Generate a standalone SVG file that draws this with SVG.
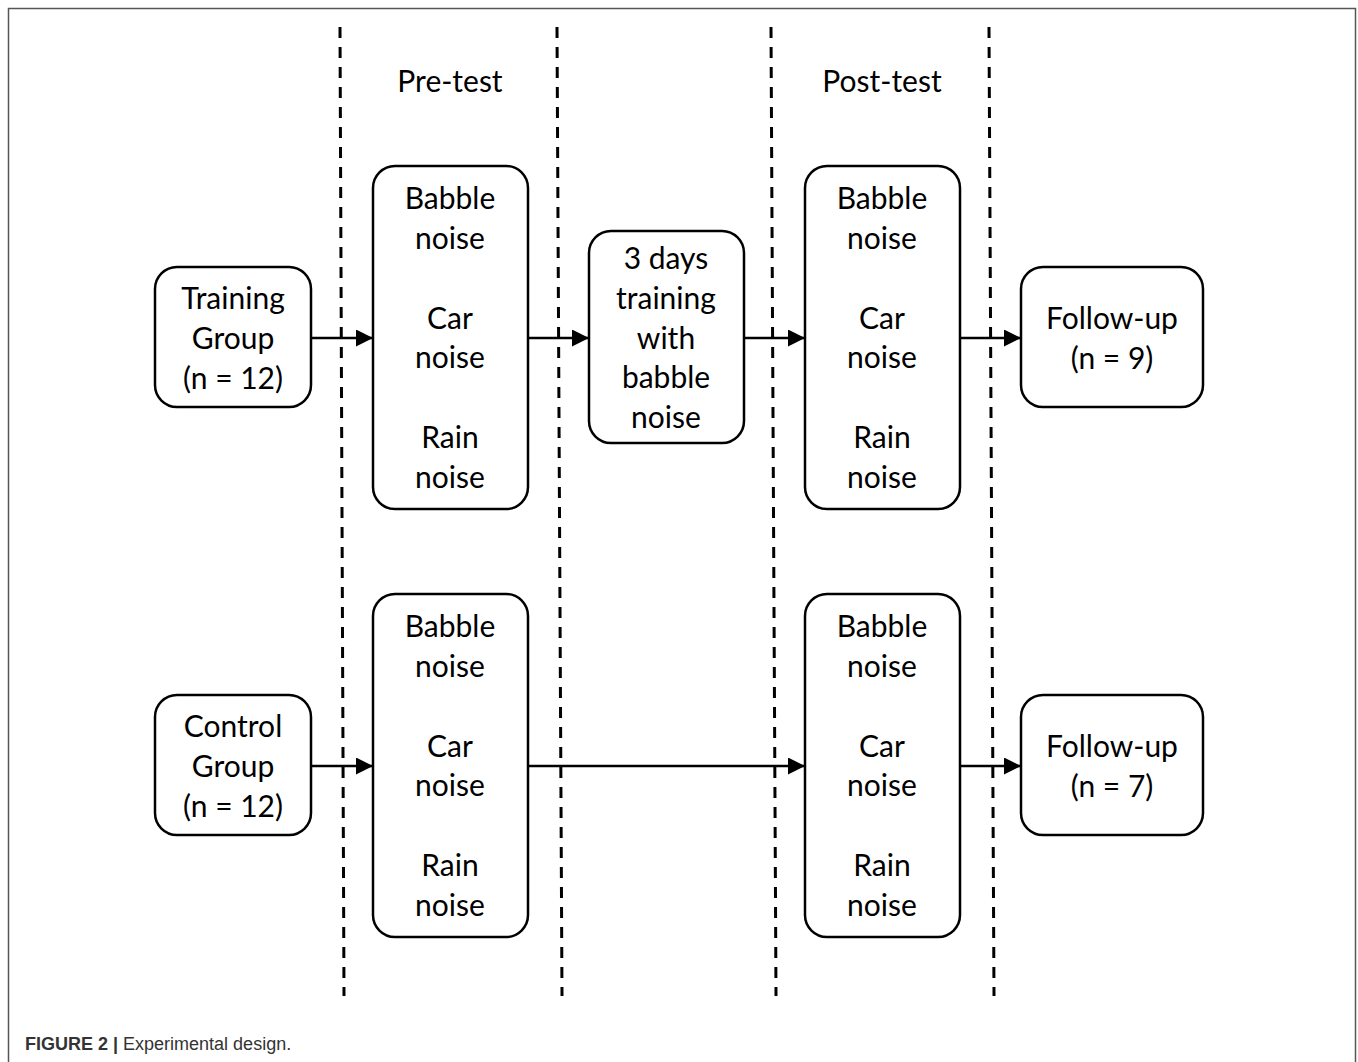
<svg xmlns="http://www.w3.org/2000/svg" width="1358" height="1062" viewBox="0 0 1358 1062">
<defs>
<marker id="ah" viewBox="0 0 10 10" refX="10" refY="5" markerWidth="17" markerHeight="17" markerUnits="userSpaceOnUse" orient="auto">
<path d="M0,0 L10,5 L0,10 z" fill="#000"/>
</marker>
<style>
.box{fill:#fff;stroke:#000;stroke-width:2.5}
.t{font-family:Lato,"Open Sans",sans-serif;font-size:30px;fill:#000;text-anchor:middle}
.dash{stroke:#000;stroke-width:3;stroke-dasharray:11 9;fill:none}
.conn{stroke:#000;stroke-width:2.5;fill:none;marker-end:url(#ah)}
.cap{font-family:"Liberation Sans",Arial,sans-serif;font-size:18px;fill:#333}
</style>
</defs>
<rect x="8.5" y="8.5" width="1347" height="1070" fill="#fff" stroke="#555" stroke-width="1.5"/>
<g id="phases">
<line class="dash" x1="340" y1="27" x2="344" y2="996"/>
<line class="dash" x1="557" y1="27" x2="562" y2="996"/>
<line class="dash" x1="771" y1="27" x2="776" y2="996"/>
<line class="dash" x1="989" y1="27" x2="994" y2="996"/>
<text class="t" x="450" y="92">Pre-test</text>
<text class="t" x="882" y="92">Post-test</text>
</g>
<g id="connectors">
<line class="conn" x1="311" y1="338" x2="373" y2="338"/>
<line class="conn" x1="528" y1="338" x2="589" y2="338"/>
<line class="conn" x1="744" y1="338" x2="805" y2="338"/>
<line class="conn" x1="960" y1="338" x2="1021" y2="338"/>
<line class="conn" x1="311" y1="766" x2="373" y2="766"/>
<line class="conn" x1="528" y1="766" x2="805" y2="766"/>
<line class="conn" x1="960" y1="766" x2="1021" y2="766"/>
</g>
<g id="training-group">
<rect class="box" x="155" y="267" width="156" height="140" rx="22"/>
<text class="t" x="233" y="309">Training</text>
<text class="t" x="233" y="349">Group</text>
<text class="t" x="233" y="389">(n = 12)</text>
</g>
<g id="pretest-training">
<rect class="box" x="373" y="166" width="155" height="343" rx="22"/>
<text class="t" x="450" y="209">Babble</text>
<text class="t" x="450" y="249">noise</text>
<text class="t" x="450" y="329">Car</text>
<text class="t" x="450" y="368">noise</text>
<text class="t" x="450" y="448">Rain</text>
<text class="t" x="450" y="488">noise</text>
</g>
<g id="training-sessions">
<rect class="box" x="589" y="231" width="155" height="212" rx="22"/>
<text class="t" x="666" y="269">3 days</text>
<text class="t" x="666" y="309">training</text>
<text class="t" x="666" y="349">with</text>
<text class="t" x="666" y="388">babble</text>
<text class="t" x="666" y="428">noise</text>
</g>
<g id="posttest-training">
<rect class="box" x="805" y="166" width="155" height="343" rx="22"/>
<text class="t" x="882" y="209">Babble</text>
<text class="t" x="882" y="249">noise</text>
<text class="t" x="882" y="329">Car</text>
<text class="t" x="882" y="368">noise</text>
<text class="t" x="882" y="448">Rain</text>
<text class="t" x="882" y="488">noise</text>
</g>
<g id="followup-training">
<rect class="box" x="1021" y="267" width="182" height="140" rx="22"/>
<text class="t" x="1112" y="329">Follow-up</text>
<text class="t" x="1112" y="369">(n = 9)</text>
</g>
<g id="control-group">
<rect class="box" x="155" y="695" width="156" height="140" rx="22"/>
<text class="t" x="233" y="737">Control</text>
<text class="t" x="233" y="777">Group</text>
<text class="t" x="233" y="817">(n = 12)</text>
</g>
<g id="pretest-control">
<rect class="box" x="373" y="594" width="155" height="343" rx="22"/>
<text class="t" x="450" y="637">Babble</text>
<text class="t" x="450" y="677">noise</text>
<text class="t" x="450" y="757">Car</text>
<text class="t" x="450" y="796">noise</text>
<text class="t" x="450" y="876">Rain</text>
<text class="t" x="450" y="916">noise</text>
</g>
<g id="posttest-control">
<rect class="box" x="805" y="594" width="155" height="343" rx="22"/>
<text class="t" x="882" y="637">Babble</text>
<text class="t" x="882" y="677">noise</text>
<text class="t" x="882" y="757">Car</text>
<text class="t" x="882" y="796">noise</text>
<text class="t" x="882" y="876">Rain</text>
<text class="t" x="882" y="916">noise</text>
</g>
<g id="followup-control">
<rect class="box" x="1021" y="695" width="182" height="140" rx="22"/>
<text class="t" x="1112" y="757">Follow-up</text>
<text class="t" x="1112" y="797">(n = 7)</text>
</g>
<text class="cap" x="25" y="1050"><tspan font-weight="bold">FIGURE 2 |</tspan> Experimental design.</text>
</svg>
